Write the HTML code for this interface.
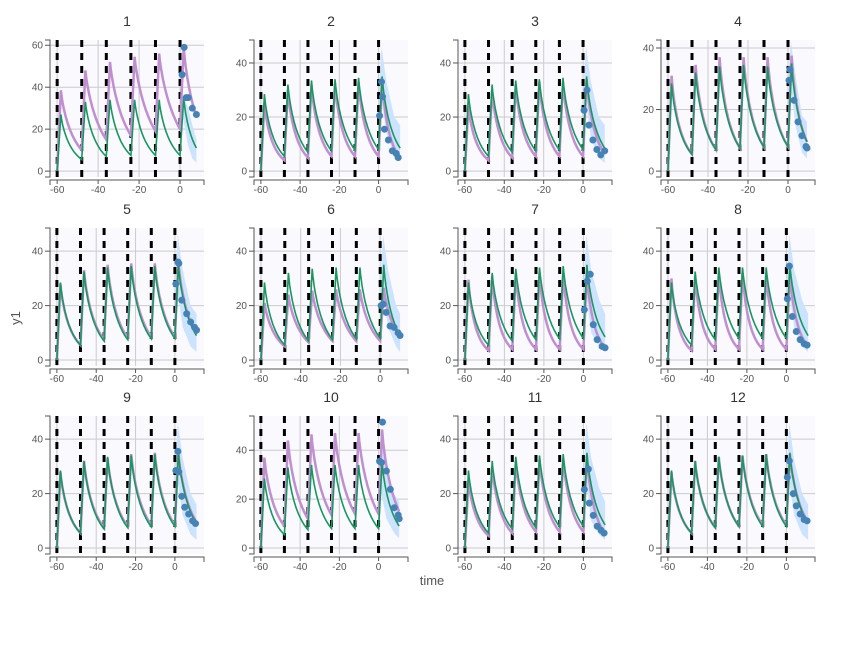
<!DOCTYPE html>
<html><head><meta charset="utf-8">
<style>
html,body{margin:0;padding:0;background:#fff;}
svg{display:block;font-family:"Liberation Sans",sans-serif;}
</style></head>
<body>
<svg id="chart" width="855" height="645" viewBox="0 0 855 645" xmlns="http://www.w3.org/2000/svg">
<text x="20" y="318" font-size="13" fill="#555" text-anchor="middle" transform="rotate(-90 20 318)">y1</text>
<text x="432" y="585" font-size="13" fill="#555" text-anchor="middle">time</text>
</svg>
<script>
const panelIds=[1,2,3,4,5,6,7,8,9,10,11,12];
const doseTimes=[-60,-48,-36,-24,-12,0];
const yMaxes=[62.5,48.5,48.5,42.6,48.5,48.5,48.5,48.5,48.5,54,48.5,48.5];
const xMaxes=[11.7,15,14.7,13.5,14.8,14,14.5,14.5,14.8,15,14.5,14.5];
const endTimes=[8,11,11,9.5,11,10,11,11,11,10.5,11,11];
const greenPeaks=[
[27,33,34,34,34,35],[28.5,32,33.5,34,34.5,35],[28.5,32,33.5,34,34.5,35],[28.5,32,34,34.5,34,35],
[28.5,32.5,34,34.5,34.5,35],[28.5,32,33.5,34,34,35],[28.5,32,33.5,34,34.5,35],[28.5,32.5,34,34,34,35],
[28.5,32,33.5,34,34.5,35],[28.5,33,34,34,34,35],[28.5,32,33.5,34,34.5,35],[28.5,32,33.5,34,34.5,35]];
const greenTroughs=[
[5.5,7,7.5,7.5,7.5,11],[5.5,7,7.5,7.8,8,8.5],[5.5,7,7.5,7.8,8,8.5],[5.5,7,7.5,7.8,8,9.5],
[5.5,7,7.5,7.8,8,9],[5.5,7,7.5,7.8,8,9],[5.5,7,7.5,7.8,8,8.5],[5.5,7.5,8,8,8,9],
[5.5,7,7.5,7.8,8,9],[5.5,7.5,8,8,8,9],[5.5,7,7.5,7.8,8,8.5],[5.5,7.5,8,8,8,9]];
const purplePeaks=[
[38.5,48,52,54.5,56,59],[25,30,32,32.5,33,34],[24,30,32,33,33,34],[31,34.5,37,37,37,37.5],
[28,33,35,35.5,35.5,36],[21,24,25.5,26,26,26.5],[29.5,31,32,32,32,32],[30,31,32,32,32,32],
[28,32,33,34.5,35,35],[37,44,46.5,47,47,48.5],[25,30,32,32.5,33,34],[28,32,33.5,34,34.5,34.5]];
const purpleTroughs=[
[10,15,17,19,20,26],[4,5,5.5,5.5,5.5,5],[4,5,5.5,5.5,5.5,6.5],[5.5,7,7.5,7.8,8,9.5],
[5.5,7.5,8.2,8.5,8.5,9.5],[5,6.5,7,7,7,8.5],[3.5,4,4,4,4,4.5],[3.5,4,4,4,4,5],
[5.5,7.5,8,8.5,8.5,9.5],[9,12,13.5,14,14,15],[4.5,5.5,6,6,6,5.5],[5.5,7.5,8,8.5,8.5,9.5]];
const bandTimes=[
[0,1.5,4,6,8],[0,1.5,4,8,11],[0,1.5,4,8,11],[0,1.5,4,7,9.5],[0,1.5,4,8,11],[0,1.5,4,8,10],
[0,1.5,4,8,11],[0,1.5,4,8,11],[0,1.5,4,8,11],[0,1.5,4,8,10.5],[0,1.5,4,8,11],[0,1.5,4,8,11]];
const bandUpper=[
[25,36,30,22,15],[28,46,33,20,17],[28,46,33,20,17],[30,42,30,18,16],[28,46,33,20,17],[28,46,33,20,17],
[28,46,33,22,17],[28,46,33,22,17],[28,46,33,20,16],[28,46,33,22,19],[28,46,33,22,17],[28,46,32,20,16]];
const bandLower=[
[15,25,12,6,4],[15,26,14,6,4],[15,26,12,5,3],[18,26,14,6,4],[15,24,12,5,3],[14,24,12,5,3],
[14,24,10,5,3],[14,24,12,5,3],[15,24,12,5,3],[10,22,12,6,4],[14,24,10,5,3],[14,24,12,5,3]];
const obsTimes=[
[1,2,3,4,6,8],[0.5,1.5,2,3,5,7,9,10],[0.5,2,3,5,7,9,11],[0.5,1,3,5,7,9,9.5],
[0.5,1.5,2,3.5,6,8,10,11],[0.5,1.5,3,5,7,9,10],[0.5,2,3.5,5,7,9.5,11],[0.5,1.5,3,5,7,9,10.5],
[0.5,1.5,2,3.5,5,7,9,10.5],[0.5,1.5,2,4,6,8,10,10.5],[0.5,2.5,3,5,7,9,10.5],[0.5,1.5,3.5,5,7,9,10.5]];
const obsValues=[
[46,59,35,35,30,27],[20.5,33,27.5,15.5,11.5,7.5,6.5,5],[22.5,30,17,11.5,8,6,7.5],[29.5,33,23,16,11.5,8,7.5],
[28,36,35.5,22,17,14,12,11],[20,20.5,17.5,12.5,12,10,9],[18.5,29,31.5,13,7.5,5,4.5],[22.5,34.5,16,10.5,7.5,6,5.5],
[28.5,35.5,28,19,15,12.5,10,9],[35.5,35,51.5,31.5,24,16.5,13.5,12],[21.5,29,16.5,12,8,6.5,5.5],[26,32,20,15.5,12.5,10.5,10]];
const xTicks=[-60,-40,-20,0];
const yTicks=[0,20,40,60];

const NS="http://www.w3.org/2000/svg";
const svg=document.getElementById('chart');
const colL=[50,254,458,661], rowT=[40,228,416], rowB=[177,366,554], W=154, XMIN=-63.5;
function mk(tag,attrs,parent){const e=document.createElementNS(NS,tag);for(const k in attrs)e.setAttribute(k,attrs[k]);(parent||svg).appendChild(e);return e;}
function simulate(peaks,troughs,end){
  const pts=[];let prev=0;
  for(let d=0;d<doseTimes.length;d++){
    const t0=doseTimes[d], tp=t0+1.8, tEnd=(d<doseTimes.length-1)?doseTimes[d+1]:end;
    pts.push([t0,prev]);pts.push([tp,peaks[d]]);
    const n=30;
    for(let i=1;i<=n;i++){const s=i/n;const t=tp+(tEnd-tp)*s;pts.push([t,peaks[d]*Math.pow(troughs[d]/peaks[d],Math.pow(s,0.85))]);}
    prev=troughs[d];
  }
  return pts;
}
panelIds.forEach((id,i)=>{
  const r=Math.floor(i/4), c=i%4;
  const L=colL[c], T=rowT[r], B=rowB[r];
  const ymax=yMaxes[i], ymin=-ymax*0.045, xmax=xMaxes[i];
  const X=v=>L+(v-XMIN)/(xmax-XMIN)*W;
  const Y=v=>B-(v-ymin)/(ymax-ymin)*(B-T);
  const g=mk('g',{});
  
  
  const bg=mk('rect',{x:L+1,y:T,width:W-1,height:B-T,fill:'#f9f9fe'},g);
  
  
  const title=mk('text',{x:L+W/2,y:T-14,'font-size':14,fill:'#333','text-anchor':'middle'},g);
  title.textContent=id;
  
  
  yTicks.forEach(v=>{if(v>ymax)return;
    const gl=mk('line',{x1:L,x2:L+W,y1:Y(v),y2:Y(v),stroke:'#ccc','stroke-width':1},g);
    
    
    const tk=mk('line',{x1:L-5,x2:L,y1:Y(v),y2:Y(v),stroke:'#555'},g);
    
    
    const tl=mk('text',{x:L-7,y:Y(v)+3.5,'font-size':10,fill:'#555','text-anchor':'end'},g);
    tl.textContent=v;
    
    
  });
  xTicks.forEach(v=>{
    const gl=mk('line',{x1:X(v),x2:X(v),y1:T,y2:B,stroke:'#ccc','stroke-width':1},g);
    
    
    const tk=mk('line',{x1:X(v),x2:X(v),y1:B+3,y2:B+7,stroke:'#555'},g);
    
    
    const tl=mk('text',{x:X(v),y:B+16,'font-size':10,fill:'#555','text-anchor':'middle'},g);
    tl.textContent=v;
    
    
  });
  const ya=mk('path',{d:`M${L-5},${T}H${L}V${B}H${L-5}`,fill:'none',stroke:'#555'},g);
  
  
  const xa=mk('path',{d:`M${L},${B+8}V${B+3}H${L+W}V${B+8}`,fill:'none',stroke:'#555'},g);
  
  
  const bt=bandTimes[i];
  let d='';bt.forEach((t,k)=>{d+=(k?'L':'M')+X(t)+','+Y(bandUpper[i][k]);});
  for(let k=bt.length-1;k>=0;k--)d+='L'+X(bt[k])+','+Y(bandLower[i][k]);
  const band=mk('path',{d:d+'Z',fill:'#cce3fe',stroke:'none'},g);
  
  
  doseTimes.forEach(t=>{
    const dl=mk('line',{x1:X(t),x2:X(t),y1:T,y2:B,stroke:'#000','stroke-width':3,'stroke-dasharray':'7,6'},g);
    
    
  });
  const toPath=pts=>pts.map((p,k)=>(k?'L':'M')+X(p[0]).toFixed(1)+','+Y(p[1]).toFixed(1)).join('');
  const pl=mk('path',{d:toPath(simulate(purplePeaks[i],purpleTroughs[i],endTimes[i])),fill:'none',stroke:'#c08fd0','stroke-width':2.5},g);
  
  
  const gr=mk('path',{d:toPath(simulate(greenPeaks[i],greenTroughs[i],endTimes[i])),fill:'none',stroke:'#1a9660','stroke-width':1.6},g);
  
  
  obsTimes[i].forEach((t,k)=>{
    const pt=mk('circle',{cx:X(t),cy:Y(obsValues[i][k]),r:3.5,fill:'#4682b4'},g);
    
    
  });
});
</script>
</body></html>
